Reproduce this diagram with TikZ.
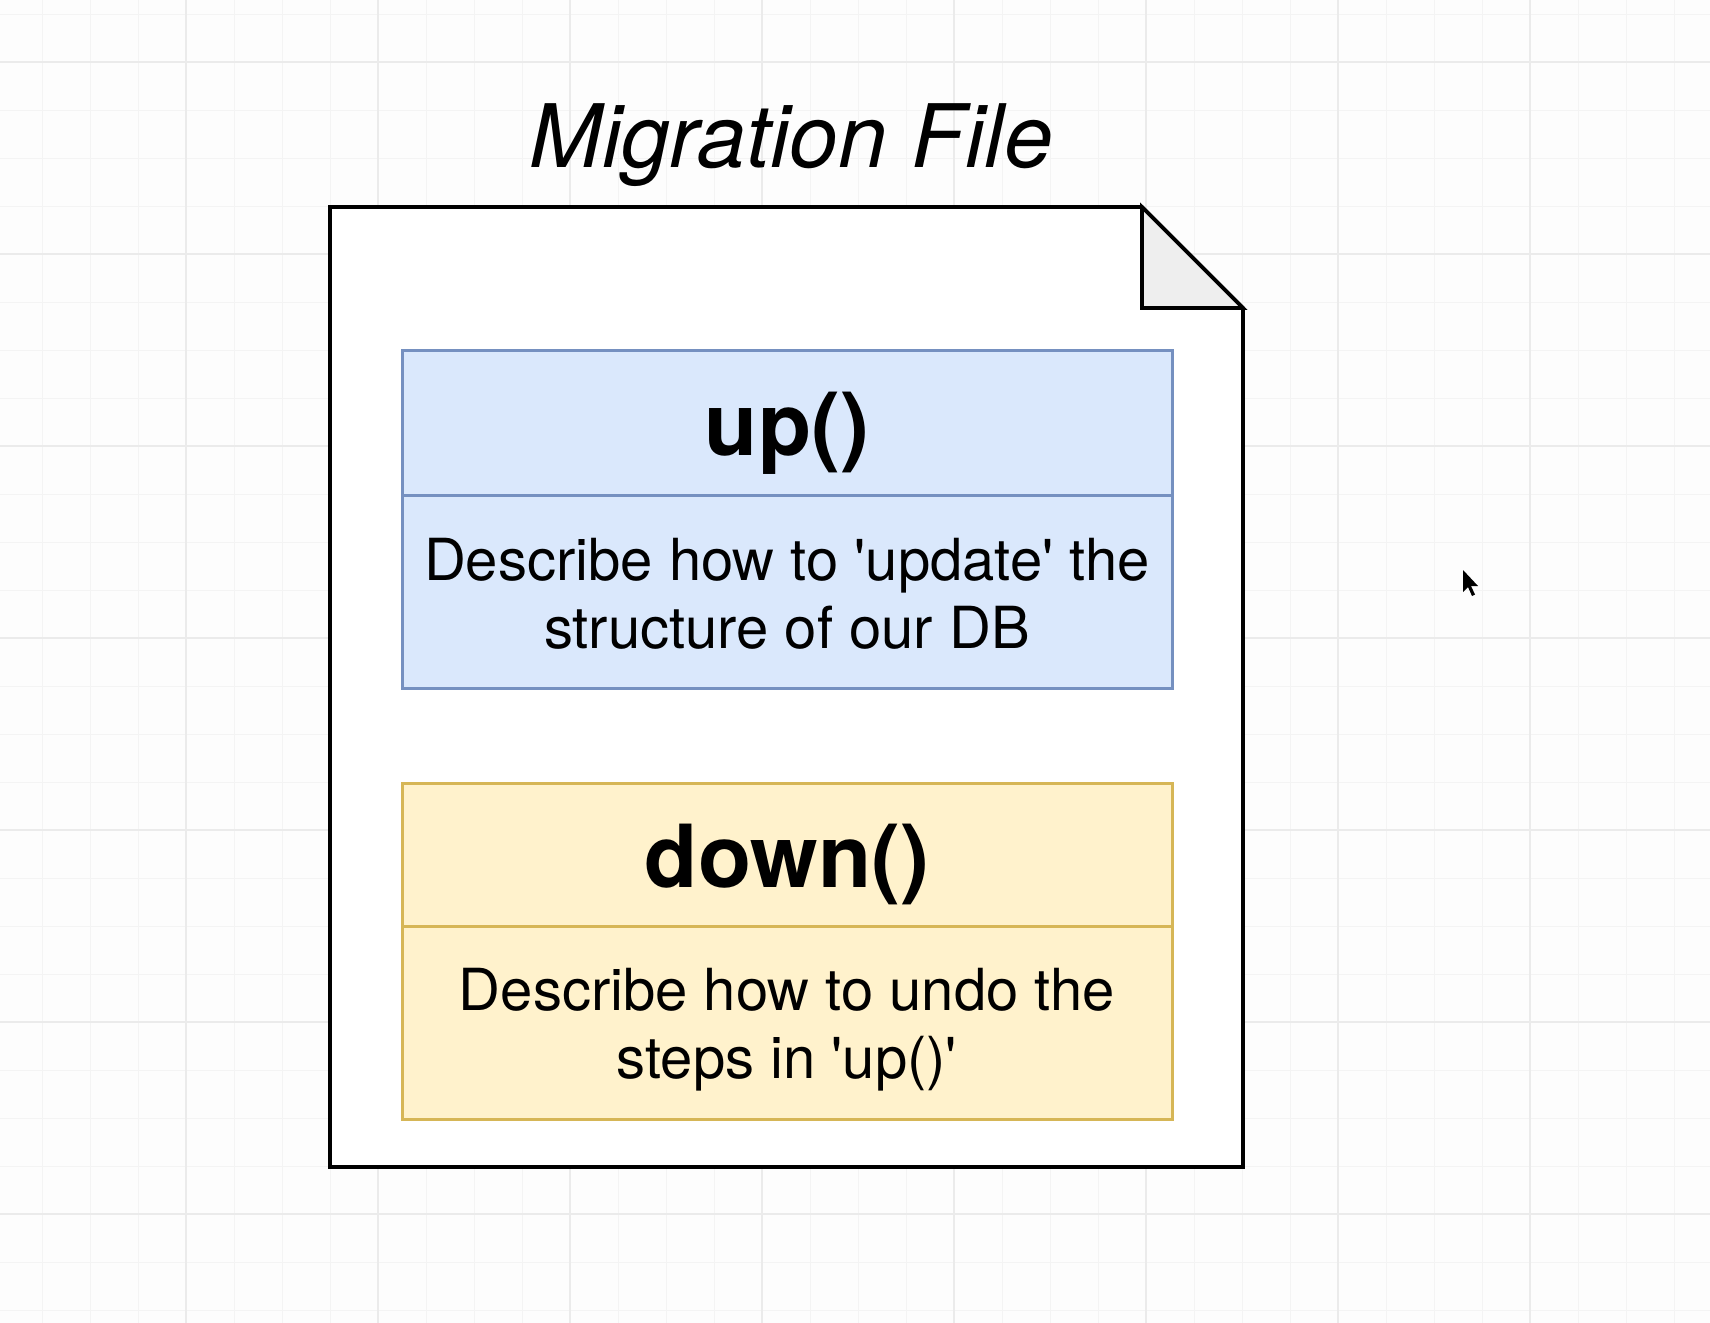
\documentclass[tikz,border=0pt]{standalone}
\usepackage{fontspec}
\setmainfont{TeX Gyre Heros}[Ligatures=TeXOff]
\definecolor{bgc}{HTML}{FDFDFD}
\definecolor{gridminor}{HTML}{F4F4F4}
\definecolor{gridmajor}{HTML}{EBEBEB}
\definecolor{upfill}{HTML}{DAE8FC}
\definecolor{updraw}{HTML}{7590C0}
\definecolor{downfill}{HTML}{FFF2CC}
\definecolor{downdraw}{HTML}{D6B656}
\definecolor{foldfill}{HTML}{EEEEEE}
\tikzset{
  minorline/.style={draw=gridminor, line width=0.5pt},
  majorline/.style={draw=gridmajor, line width=0.6pt},
  docline/.style={draw=black, line width=1.9pt, line join=miter},
  upbox/.style={draw=updraw, fill=upfill, line width=1.5pt, inner sep=0pt, minimum width=385pt},
  downbox/.style={draw=downdraw, fill=downfill, line width=1.5pt, inner sep=0pt, minimum width=385pt},
  headtext/.style={anchor=base, inner sep=0pt, font=\fontsize{43.5}{52}\selectfont\bfseries},
  bodytext/.style={anchor=base, inner sep=0pt, align=center, font=\fontsize{29}{34}\selectfont},
  titletext/.style={anchor=base, inner sep=0pt, font=\fontsize{43.8}{50}\selectfont\itshape}
}
\begin{document}
\begin{tikzpicture}[x=0.5pt,y=-0.5pt]
\fill[bgc] (0,0) rectangle (1710,1323);
\useasboundingbox (0,0) rectangle (1710,1323);
% grid
\foreach \gx in {42,90,...,1710} \draw[minorline] (\gx,0) -- (\gx,1323);
\foreach \gy in {14,62,...,1323} \draw[minorline] (0,\gy) -- (1710,\gy);
\foreach \gx in {186,378,...,1710} \draw[majorline] (\gx,0) -- (\gx,1323);
\foreach \gy in {62,254,...,1323} \draw[majorline] (0,\gy) -- (1710,\gy);
% title
\node[titletext] (title) at (791,167) {Migration File};
% document shape
\draw[docline, fill=white] (330,207) -- (1142,207) -- (1243,308) -- (1243,1167) -- (330,1167) -- cycle;
\draw[docline, fill=foldfill] (1142,207) -- (1142,308) -- (1243,308) -- cycle;
% up() box
\node[upbox, minimum height=72.5pt] (uphead) at (787,422.5) {};
\node[upbox, minimum height=96.5pt] (upbody) at (787,591.5) {};
\node[headtext] (uptext) at (787,455) {up()};
\node[bodytext] (updesc) at (787,648) {Describe how to 'update' the\\structure of our DB};
% down() box
\node[downbox, minimum height=71.5pt] (downhead) at (787,854.5) {};
\node[downbox, minimum height=96.5pt] (downbody) at (787,1022.5) {};
\node[headtext] (downtext) at (787,887) {down()};
\node[bodytext] (downdesc) at (787,1078) {Describe how to undo the\\steps in 'up()'};
% mouse cursor
\fill[black] (1463,570) -- ++(0,22) -- ++(5,-5) -- ++(4,9) -- ++(3,-1.5) -- ++(-4,-8.5) -- ++(7,0) -- cycle;
\end{tikzpicture}
\end{document}
